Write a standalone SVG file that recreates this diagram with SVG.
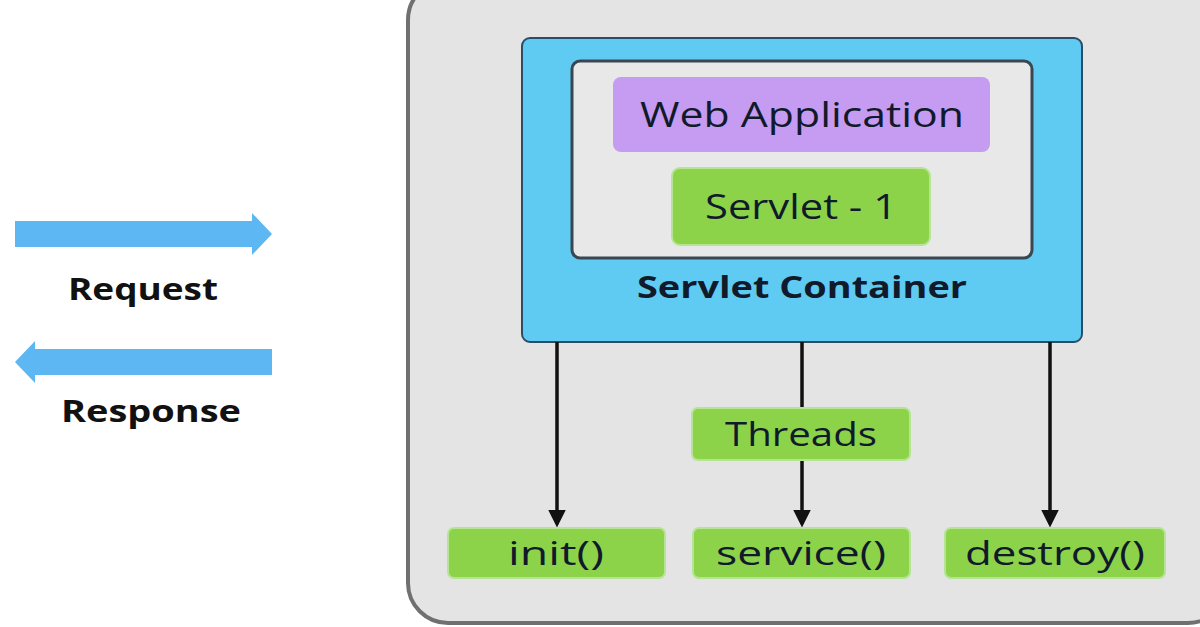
<svg xmlns="http://www.w3.org/2000/svg" width="1200" height="627" viewBox="0 0 1200 627">
<defs>
<style>
.t{font-family:"Open Sans","Liberation Sans",sans-serif;fill:#111a2a;text-anchor:middle}
.g{fill:#8cd34a;stroke:#b6e394;stroke-width:2}
.c{stroke:#111;stroke-width:3.5;fill:none;marker-end:url(#ah)}
.ba{fill:#5db7f2}
</style>
<marker id="ah" markerWidth="5" markerHeight="5" refX="4" refY="2.5" orient="auto" markerUnits="strokeWidth"><path d="M0,0 L5,2.5 L0,5 z" fill="#111"/></marker>
</defs>
<rect width="1200" height="627" fill="#fff"/>
<g id="outer"><rect x="408" y="-20" width="820" height="643" rx="40" fill="#e4e4e4" stroke="#707070" stroke-width="4"/></g>
<g id="container"><rect x="522" y="38" width="560" height="304" rx="8" fill="#5fcbf3" stroke="#2b4d68" stroke-width="2"/>
<text class="t" x="802" y="298" font-size="31" font-weight="bold" textLength="330" lengthAdjust="spacingAndGlyphs">Servlet Container</text></g>
<g id="inner"><rect x="572" y="61" width="460" height="197" rx="8" fill="#e8e8e8" stroke="#3a4652" stroke-width="3"/></g>
<g id="webapp"><rect x="613" y="77" width="377" height="75" rx="8" fill="#c59cf2"/><text class="t" x="802" y="127" font-size="35" textLength="324" lengthAdjust="spacingAndGlyphs">Web Application</text></g>
<g id="servlet1"><rect class="g" x="672" y="168" width="258" height="77" rx="8"/><text class="t" x="801" y="219" font-size="35" textLength="192" lengthAdjust="spacingAndGlyphs">Servlet - 1</text></g>
<g id="connectors">
<line class="c" x1="557" y1="342" x2="557" y2="524"/>
<line class="c" x1="802" y1="342" x2="802" y2="524"/>
<line class="c" x1="1050" y1="342" x2="1050" y2="524"/>
<path class="ba" d="M15,221 H252 V213 L272,234 L252,255 V247 H15 z"/>
<path class="ba" d="M272,349 H35 V341 L15,362 L35,383 V375 H272 z"/>
</g>
<g id="threads"><rect class="g" x="692" y="408" width="218" height="52" rx="6"/><text class="t" x="801" y="446" font-size="33" textLength="152" lengthAdjust="spacingAndGlyphs">Threads</text></g>
<g id="init"><rect class="g" x="448" y="528" width="217" height="50" rx="6"/><text class="t" x="556" y="565" font-size="33" textLength="96" lengthAdjust="spacingAndGlyphs">init()</text></g>
<g id="service"><rect class="g" x="693" y="528" width="217" height="50" rx="6"/><text class="t" x="801" y="565" font-size="33" textLength="170" lengthAdjust="spacingAndGlyphs">service()</text></g>
<g id="destroy"><rect class="g" x="945" y="528" width="220" height="50" rx="6"/><text class="t" x="1055" y="565" font-size="33" textLength="180" lengthAdjust="spacingAndGlyphs">destroy()</text></g>
<g id="request"><text class="t" x="143" y="300" font-size="31" font-weight="bold" style="fill:#111" textLength="150" lengthAdjust="spacingAndGlyphs">Request</text></g>
<g id="response"><text class="t" x="151" y="422" font-size="31" font-weight="bold" style="fill:#111" textLength="180" lengthAdjust="spacingAndGlyphs">Response</text></g>
</svg>
